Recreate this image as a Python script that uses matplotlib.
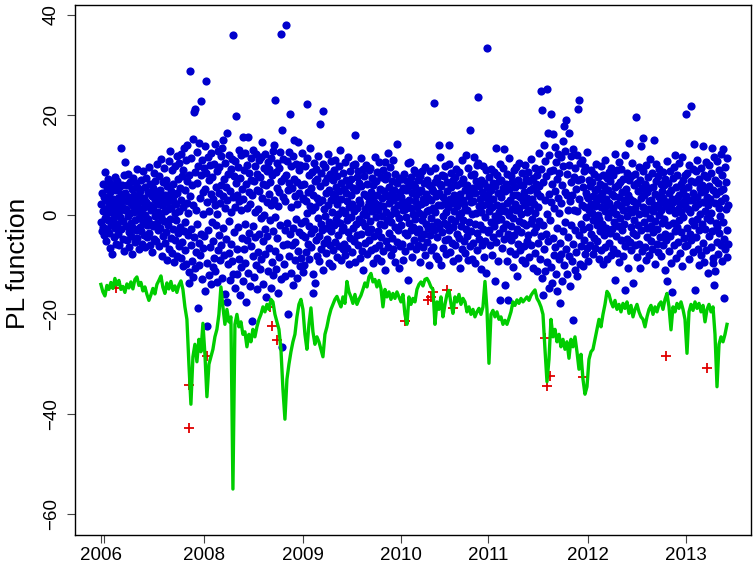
import numpy as np
import matplotlib.pyplot as plt

plt.rcParams['font.family'] = ['Liberation Sans', 'DejaVu Sans']

# daily PL values by trading day, one list per year (2007 list starts late Dec 2006)
pl_2007 = [
    2.1, -1.5, 4.3, -3.2, 0.8, 6.1, -2.4, 3.5, -4.1, 1.2, 8.5, -0.6, 2.9, -5.3, 5.2, 0.3, -2.8, 7.1, -1.1, 3.8,
    -3.6, 1.9, 6.4, -6.8, 0.5, 4.7, -2.1, 2.6, -7.9, 5.8, -0.9, 3.1, -4.5, 1.4, 7.6, -2.6, 0.1, 4.9, -5.8, 2.3,
    6.8, -1.8, 3.3, -3.9, 0.7, 5.5, -6.2, 2.0, -0.4, 4.2, 13.4, -2.9, 1.6, 6.0, -4.8, 3.0, -1.3, 7.9, -7.3, 0.9,
    4.4, 10.6, -2.2, 1.1, 5.9, -5.1, 2.7, -0.2, 8.1, -3.4, 3.6, -6.5, 0.4, 6.6, -1.6, 2.4, -4.2, 5.1, -8.0, 1.7,
    7.3, -2.7, 0.6, 4.0, -5.5, 3.2, -1.0, 6.3, -3.0, 2.2, 9.1, -4.6, 1.0, 5.4, -7.0, 3.9, -0.7, 4.8, -2.5, 0.2,
    6.9, -3.3, 2.8, -5.9, 1.3, 8.7, -1.4, 3.4, -4.0, 0.0, 5.6, -6.6, 2.5, 7.4, -2.0, 1.8, -4.4, 4.6, -0.8, 9.6,
    -3.7, 2.0, 6.2, -6.1, 0.9, 4.1, -1.9, 3.7, -7.6, 5.3, 1.5, -2.3, 8.3, -4.9, 2.9, -0.3, 6.7, -5.2, 3.1, 10.2,
    -1.7, 4.5, -3.1, 0.6, 7.8, -6.4, 2.1, 5.0, -2.6, 11.2, -0.5, 3.6, -8.4, 1.9, 6.5, -4.3, 2.4, 9.3, -1.2, 4.0,
    -5.6, 0.8, 7.0, -3.5, 2.6, -9.2, 5.7, 1.2, -2.0, 10.8, -6.9, 3.3, 12.8, -0.9, 4.8, -4.7, 1.4, 8.9, -7.7, 2.7,
    -2.8, 6.1, -9.6, 3.9, 0.3, 9.8, -5.0, 2.2, -1.1, 11.7, -8.3, 4.4, -3.6, 7.2, 0.7, -6.3, 10.4, -2.4, 5.3, -8.8,
    3.0, 12.1, -5.4, 7.7, -10.3, 1.5, 9.0, -3.2, 13.3, -7.1, 4.9, -1.5, 10.9, -9.9, 2.3, 6.8, 13.9, -4.1, 0.4, -11.6,
    8.0, -13.7, 3.7, 28.8, -6.0, 11.4, -2.9, 5.9, -9.4, 15.2, -12.5, 2.0, 20.6, -4.5, 8.6, -10.8, 21.1, 1.0, -7.5, 12.6,
    -1.8, 6.3, -18.8, 9.7, -5.7, -10.1, 14.4, 3.4, -8.1, 7.9, 22.8, -3.8, 11.0, -12.9, 4.6, 0.1, -6.7, 9.4,
]
pl_2008 = [
    -4.2, 13.8, 5.1, -15.3, 8.4, 26.7, -22.4, 2.6, -9.7, 11.5, -3.0, 6.9, -12.2, 0.8, 9.9, -6.6, 4.1, -14.0, 12.3, -1.4,
    7.5, -10.5, 3.2, -5.3, 10.1, -8.7, 1.9, 14.2, -11.3, 5.6, -2.1, 8.8, -13.6, 0.2, 12.7, -7.2, 4.3, -4.0, 9.5, -9.1,
    2.4, 11.8, -6.1, 6.0, 13.3, -12.8, 3.8, -2.7, 14.9, -8.2, 7.1, -15.9, 1.3, 10.3, -4.9, 5.5, 16.4, -17.5, 2.9, -10.0,
    8.1, -1.2, 12.0, -7.8, 4.7, -13.1, 9.2, 0.6, -5.8, 11.1, -9.3, 35.9, 3.5, -11.9, 7.7, -3.4, 10.7, -14.7, 1.6, 6.4,
    19.8, -6.9, 4.0, -12.0, 9.6, -2.5, 13.0, -8.9, 2.8, -16.2, 7.3, 0.9, -10.6, 11.9, -4.6, 5.2, 15.6, -13.3, 3.1, -7.0,
    9.0, -1.9, 12.4, -9.8, -17.6, 6.2, 1.4, -5.1, 10.0, 15.6, -11.7, 4.5, -3.6, 8.3, -14.4, 2.2, 11.3, -6.4, 7.0, -21.3,
    3.9, -8.4, 12.9, -2.2, 6.7, -12.6, 9.8, 0.5, -4.4, 12.1, -10.2, 5.0, -15.0, 8.2, 1.1, -7.6, 10.9, -3.8, 4.8, -11.0,
    7.6, -0.6, 11.6, -9.0, 3.4, 14.5, -13.9, 6.1, -5.2, 9.3, 0.0, -8.0, 12.2, -2.8, 5.9, -16.6, 8.7, -4.3, 2.5, 10.6,
    -11.4, 4.2, -6.8, 9.1, -1.0, 6.6, -14.8, 11.4, 2.0, -9.5, 7.9, -3.3, 12.8, -12.1, 13.9, 3.0, -7.3, 23.0, -0.4, 8.5,
    -10.9, 5.4, -4.7, 10.4, -15.7, 1.8, 9.4, -8.6, 4.6, -2.0, 12.6, -13.0, 6.8, 36.2, -26.5, 16.9, -6.2, 3.6, 11.2, -9.9,
    7.4, -3.1, 2.7, -12.4, 38.0, 8.0, -5.9, 10.8, -1.7, 4.9, -20.0, 6.3, -8.3, 12.5, -3.9, 20.1, 1.5, -11.8, 9.7, -6.0,
    5.3, -14.1, 11.7, -2.6, 7.2, 14.9, -9.2, 3.7, -5.5, 10.2, -0.8, 6.5, -12.7, 2.1, 14.5, -7.4, 8.9, -3.5, 4.4, -10.4,
    9.9, -1.6, 6.0, -8.8, 12.3, -4.0, 3.3, -11.5,
]
pl_2009 = [
    3.1, -10.1, 6.2, -4.4, 9.7, -1.3, 2.8, -7.6, 11.4, 0.4, 22.2, -5.8, 4.6, -2.2, 7.9, -9.0, 13.3, 1.7, -3.7, 5.3,
    -6.5, 8.6, 0.9, -12.0, 4.0, -15.8, 10.3, -2.9, 6.8, -13.7, 1.5, 9.2, -5.1, 3.4, -8.3, 7.1, -0.7, 11.8, -4.2, 2.5,
    -9.4, 18.1, 5.7, -1.9, 8.4, -6.9, 3.0, -3.1, 10.1, -11.2, 20.8, 1.2, -5.6, 6.6, -0.2, 9.5, -7.8, 4.3, -2.6, 7.4,
    -4.8, 1.9, 12.2, -9.7, 5.0, -1.4, 8.1, -6.0, 2.9, 10.7, -3.3, 0.6, -10.4, 6.9, 4.1, -7.2, 9.0, -2.0, 3.6, -5.4,
    11.0, -0.8, 5.6, -8.6, 2.2, 7.7, -4.0, 0.1, 9.8, -6.4, 4.7, -1.6, 12.9, -9.1, 3.2, 6.3, -3.0, 1.0, -7.0, 8.3,
    -2.4, 5.1, -5.9, 10.5, 0.3, -8.1, 4.4, 7.0, -1.1, 2.7, -6.7, 11.6, -3.5, 6.0, -10.0, 1.6, 8.8, -4.6, 3.9, -0.4,
    7.2, -7.5, 2.1, 9.9, -2.7, 5.4, -5.3, 0.8, 10.2, 16.0, -9.5, 4.9, -1.8, 7.5, -4.1, 1.4, 8.7, -6.2, 3.0, -0.9,
    6.4, -8.8, 2.4, 11.3, -3.9, 5.8, -1.5, -7.3, 9.1, 0.2, -11.1, 4.2, 7.8, -2.3, 1.1, -5.7, 10.0, -0.1, 3.7, -8.0,
    6.1, -3.4, 1.8, 8.9, -5.0, 2.6, -1.2, 9.4, -7.1, 4.5, -2.8, 0.7, 7.3, -9.8, 3.5, 5.9, -4.3, 1.3, 11.5, -6.8,
    2.3, -0.5, 6.8, -8.8, 4.0, 8.5, -3.2, 0.9, -6.1, 10.6, 2.0, -1.9, 5.2, -9.3, 7.6, -4.5, 3.3, -0.2, 9.0, -7.4,
    1.7, 4.8, -2.1, 7.1, -11.1, 10.6, 0.5, -5.2, 3.8, -1.0, 8.0, 12.4, -6.6, 2.4, 5.5, -3.6, 0.0, 9.6, -8.2, 4.1,
    -1.4, 6.7, -4.7, 2.9, 10.9, -7.0, 1.2, 5.0, -2.5, 8.2, -9.6, 3.6, 0.4, -5.5, 14.1, 6.3, -3.0, 1.9, -10.8, 7.4,
    -0.6, 4.6, -6.3, 2.2,
]
pl_2010 = [
    3.5, -2.0, 7.2, -5.8, 0.9, 5.4, -9.2, 2.6, 8.1, -3.7, 1.1, -7.4, 4.9, -0.5, 6.7, -4.1, 2.0, 10.4, -13.1, 5.8,
    -1.7, 3.0, 10.5, -6.3, 1.4, 7.5, -3.0, 4.3, -8.5, 0.2, 6.1, -2.4, 9.0, -5.1, 2.8, -0.9, 5.6, -7.0, 3.9, 8.3,
    -3.4, 1.6, -6.0, 6.9, 0.4, -2.9, 4.6, -9.6, 7.8, 2.1, -4.7, 5.0, -1.1, 8.7, -6.5, 3.2, 0.0, -3.8, 6.4, -8.2,
    2.5, 9.5, -1.9, 4.1, -5.4, 0.8, 7.0, -2.6, 3.4, -10.2, 6.0, 1.0, -4.0, 8.8, -0.7, 2.9, -7.1, 5.2, -2.2, 4.7,
    -6.6, 1.3, 22.4, -3.1, 6.5, 0.5, 9.4, -8.4, 3.8, -1.4, 7.3, -4.4, 2.0, -9.0, 13.9, 4.4, -2.7, 6.2, 11.6, -10.1,
    1.9, 5.7, -3.5, 8.0, -0.3, -6.8, 3.6, 7.7, -1.6, 2.3, -5.0, 9.8, 0.6, -8.0, 4.8, -2.1, 6.6, -4.9, 1.5, 10.1,
    -3.0, 13.9, 3.1, -7.5, 5.5, -0.8, 8.4, -5.6, 2.4, -2.5, 6.9, -9.4, 0.7, 4.0, -1.3, 7.6, -6.2, 3.3, 9.2, -3.9,
    1.8, 5.9, -8.7, 2.7, -0.2, 8.6, -4.6, 4.2, -10.8, 6.3, 0.3, -2.3, 10.9, -6.9, 3.0, -1.0, 7.1, -5.3, 2.2, 5.0,
    -7.8, 1.2, 12.0, -2.8, 6.0, -4.2, 0.9, 9.3, -9.1, 3.7, -1.5, 4.6, 17.0, -6.4, 2.6, 7.9, -3.3, 0.1, -8.9, 5.3,
    2.8, -5.7, 8.2, 11.5, -1.8, 4.3, -9.8, 6.8, 0.4, -3.6, 9.9, -7.2, 23.6, 10.3, 1.7, -4.8, 5.8, -2.0, 3.2, -11.0,
    7.0, 0.6, -6.1, 4.5, 9.7, -2.9, 1.9, -8.6, 6.4, -0.4, 3.5, -5.2, 8.9, -11.8, 2.1, 5.6, 33.4, -3.4,
]
pl_2011 = [
    4.2, -3.1, 7.5, 0.8, -6.0, 2.9, 9.1, -1.5, 5.0, -8.2, 1.6, 6.4, -4.4, 3.1, 8.6, -2.2, -0.3, -13.4, 5.7, 13.3,
    -5.5, 2.0, 7.9, -1.0, 4.3, -9.3, 0.5, 6.8, -3.7, 10.1, -17.1, 3.6, -0.8, 7.0, -6.7, 1.8, 5.4, -2.6, 9.3, -4.9,
    13.1, 0.7, -14.1, 4.7, -1.9, 6.2, -9.4, 2.4, 8.1, -3.8, -17.1, 11.3, 0.0, 5.1, -7.4, 3.0, -2.3, 7.7, -5.0, 1.2,
    6.6, -10.6, 3.9, -0.6, 8.9, -4.1, 2.1, 5.6, -8.0, 0.9, 9.6, -12.4, 4.0, -2.8, 6.9, -5.9, 1.4, 10.4, -1.2, 3.5,
    -7.1, 5.9, 0.2, -3.4, 8.3, -9.1, 2.7, 6.0, -1.7, 4.6, -6.4, 9.9, -9.8, 1.9, 7.2, -2.1, 3.3, -5.3, 0.6, 8.5,
    -4.0, 2.5, 6.7, -8.5, 1.0, 4.9, -1.6, 11.1, -6.2, 3.2, -0.9, 7.4, -10.7, 5.3, 2.2, -3.5, 9.4, -7.7, 0.3, 6.1,
    -2.4, 4.4, -11.3, 8.0, 1.5, -5.6, 12.4, -1.3, 5.8, -8.9, 3.7, 24.8, -4.3, 9.2, 21.0, -12.8, 6.5, -2.0, -16.1, 14.0,
    -7.0, 3.0, -11.4, 10.8, -3.9, 7.8, 0.2, -9.6, 25.1, 16.4, -5.2, 11.9, -14.8, 4.1, -1.0, 8.7, -10.5, 2.6, 20.1, -13.8,
    6.2, 16.1, -4.6, 9.0, -8.2, 1.3, 13.6, -6.5, 4.8, -12.0, 10.6, -2.7, 7.1, -15.3, 3.4, 12.2, -9.0, 0.4, 8.4, -5.7,
    -17.8, 11.5, 2.3, -7.9, -13.4, 6.0, 14.8, -3.2, 9.7, 17.7, -10.1, 4.5, -1.4, 12.7, 19.0, -6.9, 3.9, -11.9, 8.1, 0.9,
    -4.5, 10.0, -8.4, 16.3, 2.8, -14.4, 6.6, -2.1, 11.8, -9.4, 4.0, 13.1, -5.8, -21.1, 7.6, 1.0, -11.1, 9.3, -3.0, 5.2,
    -7.5, 12.0, 0.7, -12.3, 21.2, 6.9, 23.0, -4.0, 3.1, -9.9, 10.3, -1.8, 7.2, -6.3, 2.0, 11.0, -10.4, 5.5, -2.9, 8.8,
    -5.1, 1.6, 9.6, -8.0, 4.3, -0.5, 12.5, -6.8, 3.8,
]
pl_2012 = [
    -9.4, 3.3, 7.0, -2.4, 1.0, 5.8, -6.1, 2.2, 9.0, -3.9, 0.4, 6.5, -8.0, 3.7, -1.1, 8.2, -4.6, 1.8, 4.9, -6.8,
    2.6, 10.2, -2.0, 5.2, -5.2, 0.0, 7.6, -8.9, 3.5, -0.9, 6.2, -3.3, 9.8, -7.2, 1.5, 4.4, -1.8, 8.0, -10.0, 2.9,
    5.7, -4.0, 0.8, 11.0, -6.5, 3.1, -2.6, 7.3, -9.0, 1.9, 5.0, -0.5, 8.6, -5.6, 2.4, -3.6, 6.8, -8.1, 0.6, 9.4,
    -2.9, 4.2, -6.9, 1.3, 7.9, -1.4, 3.8, 12.1, -13.1, 5.5, -4.3, 0.2, 8.9, -7.7, 2.1, 6.0, -2.2, 10.6, -9.5, 3.6,
    -0.7, 6.6, -5.0, 1.7, 9.2, -3.1, 4.5, -8.4, 0.9, 7.2, -1.9, 3.0, -6.3, 11.9, -15.1, 5.1, 2.6, -4.8, 8.4, -0.3,
    4.0, -10.8, 6.9, 1.1, 14.4, -5.4, 3.2, -2.5, 7.7, -7.1, 0.5, 10.4, -3.7, 2.7, -13.8, 5.9, -1.0, 8.1, -6.0, 1.4,
    19.6, -4.1, 6.3, -8.6, 2.3, 4.8, -2.1, 9.5, -5.8, 0.1, 7.0, -10.8, 3.4, 13.7, -3.0, 5.4, -7.4, 1.6, 8.7, 15.3,
    -1.5, 3.9, -6.6, 6.1, 0.3, -9.2, 9.9, -2.7, 4.6, -4.4, 1.2, 7.5, -8.1, 2.8, 5.3, -0.6, 11.2, -5.3, 3.0, -2.3,
    8.3, -7.0, 0.7, 5.6, -3.4, 2.0, 14.9, -9.9, 4.1, -1.2, 6.7, 10.1, -5.9, 1.5, -2.8, 7.8, -7.6, 3.6, 0.0, 9.1,
    -4.5, 2.4, 6.2, -8.3, 1.0, 4.7, -1.6, 8.5, -6.2, 3.3, -0.8, 5.9, -3.9, -11.1, 7.1, 1.8, -5.1, -13.4, 10.7, 2.6,
    -2.0, 6.4, -7.3, 0.9, 4.3, -4.2, 8.8, 1.3, -9.7, 5.0, -15.5, 3.1, 7.4, -1.7, 2.5, -6.0, 9.6, 12.0, -3.2, 0.4,
    5.5, -8.7, 3.4, -2.4, 7.9, -5.5, 1.1, 10.3, -1.0, 4.0, -7.8, 2.2, 6.1, -3.5, 0.6, 11.5, -10.3, 4.9, -0.4, 7.0,
    -4.7, 2.8, 8.0, -6.4, 1.7, 20.2,
]
pl_2013 = [
    3.7, -2.6, 8.4, -6.2, 1.2, 5.6, -9.0, 2.9, 10.0, -3.8, 0.5, 6.8, 21.8, -5.0, 3.0, -1.3, 9.1, -7.5, 4.3, 14.1,
    -2.0, 6.5, -15.1, 1.6, 8.7, -4.4, 3.5, -0.9, 11.0, -6.9, 2.1, 7.2, -3.1, -10.1, 5.3, 0.2, 9.4, -8.2, 4.6, -1.8,
    6.0, 13.8, -5.6, 2.5, 8.0, -9.6, 0.8, 4.9, -2.9, 10.5, -7.1, 3.6, -0.6, 7.6, -11.8, 1.9, 5.8, -4.2, 9.9, -1.0,
    3.2, -6.5, 8.3, 0.4, -3.3, 13.3, -8.8, -9.8, 5.0, -14.1, 11.6, 2.3, -11.4, 7.0, -1.6, 4.1, -5.4, 10.8, -2.5, 6.3,
    -7.9, 1.4, 9.0, -3.7, 4.7, -0.2, 12.2, -6.1, 2.7, 7.9, -9.3, 13.1, -1.4, 5.2, -4.9, -16.8, 3.3, 9.6, -7.0, 1.1,
    6.6, -3.0, 11.3, -8.5, 2.0, -5.8,
]

# VaR line, read every 5th trading day
var_2007 = [
    -14.0, -15.5, -16.3, -14.2, -15.0, -13.6, -14.8, -12.8, -14.1, -13.2,
    -15.0, -14.4, -15.6, -13.9, -14.7, -13.5, -14.9, -13.0, -12.5, -14.2,
    -13.6, -15.3, -14.5, -16.0, -17.2, -16.1, -14.8, -15.9, -14.0, -13.2,
    -12.3, -14.6, -15.8, -13.7, -14.9, -13.4, -15.2, -14.3, -15.6, -14.1,
    -13.3, -15.0, -18.5, -21.0, -30.0, -38.0, -28.5, -26.0, -29.5, -25.0,
    -27.5, -21.8,
]
var_2008 = [
    -28.0, -36.5, -30.0, -28.5, -27.0, -24.5, -23.0, -20.0, -14.5, -18.5,
    -22.0, -19.0, -21.5, -20.5, -55.0, -22.0, -20.0, -22.5, -21.5, -24.0,
    -23.5, -26.5, -24.0, -25.5, -23.0, -24.5, -22.5, -21.0, -20.0, -18.5,
    -19.5, -18.0, -19.0, -17.0, -17.5, -20.0, -21.5, -23.0, -27.0, -35.0,
    -41.0, -33.0, -30.0, -27.5, -25.5, -24.0, -20.5, -18.0, -17.0, -19.0,
]
var_2009 = [
    -24.0, -27.0, -22.0, -18.7, -23.5, -26.0, -24.5, -25.5, -27.0, -28.5,
    -24.0, -22.5, -20.5, -19.0, -18.0, -17.0, -16.4, -17.5, -18.5, -16.5,
    -17.8, -13.4, -15.5, -16.5, -17.8, -16.0, -18.0, -17.0, -16.2, -15.0,
    -13.7, -14.5, -12.5, -11.8, -13.5, -13.0, -14.5, -13.2, -14.8, -18.5,
    -15.0, -16.5, -15.5, -17.0, -15.8, -16.8, -15.5, -16.5,
]
var_2010 = [
    -17.5, -16.0, -20.0, -22.0, -16.5, -18.0, -16.8, -17.5, -15.0, -14.0,
    -13.5, -14.3, -13.0, -12.8, -13.5, -14.5, -15.0, -22.0, -17.5, -19.0,
    -16.5, -20.5, -18.0, -16.0, -15.2, -17.8, -19.8, -16.5, -17.5, -16.0,
    -18.0, -16.8, -17.5, -19.5, -18.5, -20.0, -19.0, -20.5, -19.5, -18.8,
    -20.0, -18.5, -13.4, -19.0,
]
var_2011 = [
    -29.8, -20.0, -19.2, -20.5, -19.5, -21.0, -20.5, -22.0, -21.2, -22.0,
    -20.8, -19.5, -17.5, -18.2, -17.1, -17.8, -16.8, -17.5, -17.0, -16.5,
    -17.2, -16.2, -15.6, -15.1, -16.8, -17.5, -18.5, -20.0, -27.0, -33.5,
    -29.0, -21.0, -24.5, -23.0, -25.5, -24.0, -26.5, -25.0, -27.0, -25.5,
    -28.8, -25.0, -26.5, -24.5, -27.5, -31.0, -28.0, -33.0, -36.0, -34.5,
]
var_2012 = [
    -29.0, -27.5, -27.0, -25.0, -23.0, -21.0, -22.5, -20.0, -18.0, -15.4,
    -16.0, -17.5, -18.5, -17.2, -19.0, -18.0, -19.5, -17.8, -18.8, -17.5,
    -19.8, -18.2, -20.5, -19.0, -18.0, -19.5, -20.5, -21.0, -22.5, -20.5,
    -19.0, -18.2, -20.0, -18.5, -19.5, -18.0, -17.5, -19.0, -17.0, -15.8,
    -18.5, -23.1, -18.5, -19.5, -17.8, -18.8, -17.5, -19.0, -21.0,
]
var_2013 = [
    -27.8, -19.5, -18.0, -19.2, -17.5, -18.8, -17.8, -19.5, -18.2, -21.5,
    -19.0, -18.0, -19.5, -18.5, -24.0, -34.5, -26.0, -24.5, -25.5, -24.0, -22.0,
]

# VaR exceedances: trading day and PL value
exc_day = [38, 220, 221, 264, 422, 427, 441, 761, 818, 825, 831, 864, 881,
           1110, 1114, 1122, 1204, 1412, 1516]
exc_pl = [-14.8, -42.8, -34.1, -28.3, -18.6, -22.3, -25.1, -21.3, -17.1, -16.5, -15.6, -15.1, -18.8,
          -24.8, -34.3, -32.3, -32.5, -28.3, -30.7]

# first trading day of each year (2007 label hidden by R, overlaps 2006)
year_day = [0, 8, 258, 506, 750, 968, 1217, 1463]
year_lab = ['2006', '', '2008', '2009', '2010', '2011', '2012', '2013']

pl = np.concatenate([pl_2007, pl_2008, pl_2009, pl_2010, pl_2011, pl_2012, pl_2013])
days = np.arange(len(pl))
var = np.concatenate([var_2007, var_2008, var_2009, var_2010, var_2011, var_2012, var_2013])
var_days = np.arange(len(var)) * 5

fig = plt.figure(figsize=(7.56, 5.71), dpi=100)
ax = fig.add_axes([0.0996, 0.0636, 0.8938, 0.9277])

ax.plot(days, pl, 'o', color='#0000CD', ms=5.9, mew=0, zorder=2)
ax.plot(exc_day, exc_pl, '+', color='#E00000', ms=7, mew=1.3, zorder=3)
ax.plot(var_days, var, '-', color='#00CD00', lw=2.4, zorder=4)

ax.set_xlim(-64, 1625)
ax.set_ylim(-64.15, 42)
ax.set_xticks(year_day)
ax.set_xticklabels(year_lab)
ax.set_yticks([-60, -40, -20, 0, 20, 40])
ax.tick_params(direction='out', length=6, width=0.8, color='#444444', labelsize=13.5)
ax.tick_params(axis='x', pad=3)
ax.tick_params(axis='y', pad=5)
for lbl in ax.get_yticklabels():
    lbl.set_rotation(90)
    lbl.set_va('center')
for s in ax.spines.values():
    s.set_linewidth(1.0)
    s.set_color('black')

fig.text(18 / 756, 1 - 263 / 571, 'PL function', rotation=90, fontsize=19,
         ha='center', va='center')

fig.savefig('out.png', dpi=100)
